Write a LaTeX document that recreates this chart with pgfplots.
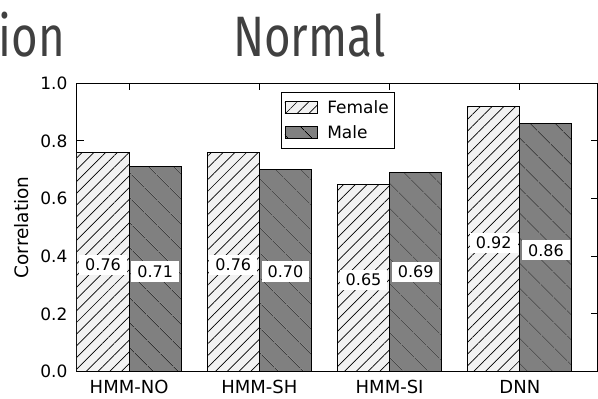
\documentclass[border=0pt]{standalone}
\usepackage{fontspec}
\setmainfont{DejaVu Sans}
\newfontfamily\titlefont{Fira Sans}
\usepackage{pgfplots}
\pgfplotsset{compat=1.18}
\usetikzlibrary{patterns.meta}
\definecolor{femfill}{HTML}{F2F2F2}
\definecolor{malefill}{HTML}{808080}
\definecolor{titlegray}{HTML}{404040}
\pgfplotsset{barlegend/.style={legend image code/.code={\draw[##1, line width=0.8pt] (0pt,-6pt) rectangle (32pt,6pt);}}}
\begin{document}
\begin{tikzpicture}[x=1pt,y=1pt]
\useasboundingbox (0,0) rectangle (598,399);
\clip (0,0) rectangle (598,399);
\node[anchor=base east, xscale=0.8, font=\titlefont\fontsize{57}{60}\selectfont, text=titlegray, inner sep=0pt] at (65,342) {ion};
\node[anchor=base west, xscale=0.8, font=\titlefont\fontsize{57}{60}\selectfont, text=titlegray, inner sep=0pt] at (233,342) {Normal};
\begin{axis}[
  at={(77pt,27.5pt)}, anchor=south west, scale only axis,
  width=521pt, height=288.3pt,
  xmin=0, xmax=4, ymin=0, ymax=1,
  xtick={0.4,1.4,2.4,3.4}, xticklabels={HMM-NO,HMM-SH,HMM-SI,DNN},
  ytick={0,0.2,0.4,0.6,0.8,1.0},
  yticklabel style={/pgf/number format/fixed, /pgf/number format/fixed zerofill, /pgf/number format/precision=1, font=\fontsize{17}{20}\selectfont, xshift=-6pt},
  /pgf/number format/assume math mode=true,
  tick align=inside, major tick length=7pt,
  every tick/.style={black, line width=0.8pt},
  axis line style={line width=1pt},
  xticklabel style={font=\fontsize{18}{21}\selectfont, yshift=-5pt},
  ylabel={Correlation},
  every axis y label/.style={at={(axis description cs:-0.1056,0.5)}, rotate=90, anchor=center, font=\fontsize{18.5}{22}\selectfont},
  legend style={at={(axis description cs:0.3916,0.9705)}, anchor=north west, draw=black, line width=1pt, font=\fontsize{17}{20}\selectfont,
    row sep=5pt, inner xsep=3pt, inner ysep=5pt, nodes={inner sep=3pt},
    /tikz/every odd column/.append style={column sep=7pt}},
  legend cell align=left,
]
\addplot[ybar, bar width=0.4, bar shift=0pt, fill=femfill, draw=black, line width=1pt,
  postaction={pattern={Lines[angle=45,distance=8.3pt,line width=0.7pt]}}, barlegend]
  coordinates {(0.2,0.76) (1.2,0.76) (2.2,0.65) (3.2,0.92)};
\addlegendentry{Female}
\addplot[ybar, bar width=0.4, bar shift=0pt, fill=malefill, draw=black, line width=1pt,
  postaction={pattern={Lines[angle=-45,distance=18.5pt,line width=0.7pt]}}, barlegend]
  coordinates {(0.6,0.71) (1.6,0.70) (2.6,0.69) (3.6,0.86)};
\addlegendentry{Male}
\addplot[draw=none, forget plot, nodes near coords, point meta=explicit symbolic,
  nodes near coords style={anchor=center, fill=white, inner xsep=6pt, inner ysep=4pt, font=\fontsize{16}{19}\selectfont, text=black}]
  coordinates {(0.2,0.37) [0.76] (0.6,0.347) [0.71] (1.2,0.37) [0.76] (1.6,0.347) [0.70]
               (2.2,0.318) [0.65] (2.6,0.346) [0.69] (3.2,0.446) [0.92] (3.6,0.42) [0.86]};
\end{axis}
\end{tikzpicture}
\end{document}
